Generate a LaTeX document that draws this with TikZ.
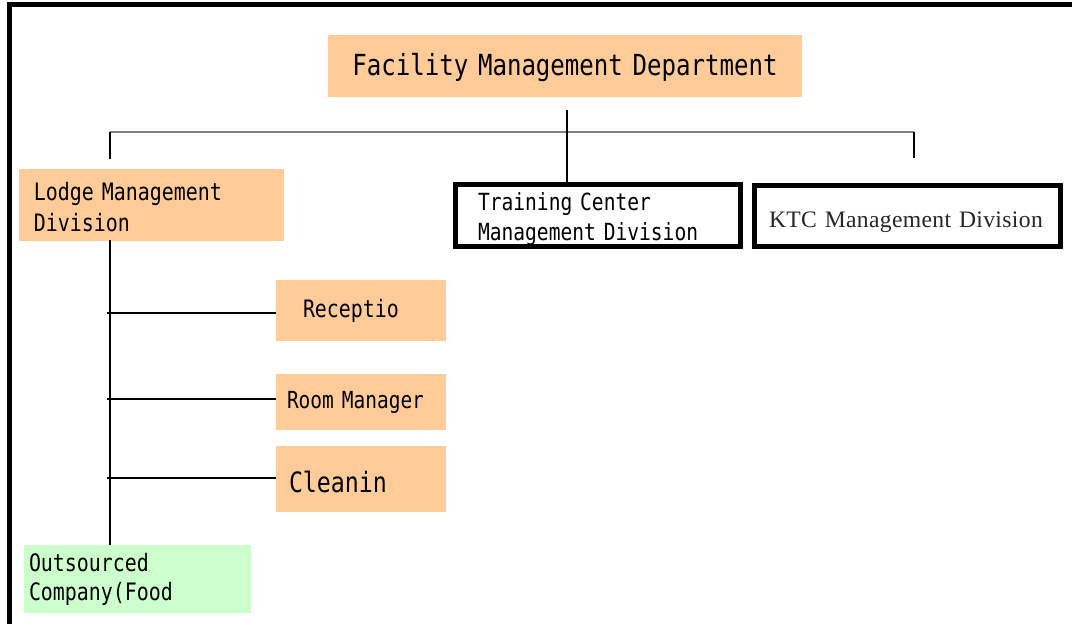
\documentclass[tikz,border=0pt]{standalone}
\usepackage{fontspec}
\newfontfamily\gothic[FakeStretch=0.83]{DejaVu Sans Mono}
\newfontfamily\mincho[LetterSpace=1.5]{Liberation Serif}
\definecolor{peach}{HTML}{FFCC99}
\definecolor{mint}{HTML}{CCFFCC}
\newcommand{\lift}[1]{\rule{0pt}{#1}}
\begin{document}
\begin{tikzpicture}[x=1pt,y=-1pt,
  box/.style={inner ysep=0pt,align=left,anchor=center},
  peachbox/.style={box,fill=peach},
  greenbox/.style={box,fill=mint},
  framebox/.style={box,draw=black,line width=5pt,fill=white},
  link/.style={line width=1.2pt,black},
  barline/.style={line width=1.2pt,gray}]
\useasboundingbox (0,0) rectangle (1072,624);
% outer frame (top and left)
\draw[line width=5.5pt,line join=miter] (9.3,624) -- (9.3,4.5) -- (1072,4.5);

\node[peachbox,minimum width=474pt,minimum height=62pt,align=center,text width=474pt,inner xsep=0pt,
  font=\gothic\fontsize{29}{34}\selectfont] (fac) at (565,66) {\lift{0.9em}Facility Management Department};

\node[peachbox,minimum width=265pt,minimum height=72pt,inner xsep=15pt,text width=235pt,
  font=\gothic\fontsize{24}{31}\selectfont] (lodge) at (151.5,204.5) {\lift{1.0em}Lodge Management\\Division};

\node[framebox,minimum width=285pt,minimum height=60pt,inner xsep=22.5pt,text width=240pt,
  font=\gothic\fontsize{23.6}{30}\selectfont] (trn) at (598,215.5) {\lift{1.1em}Training Center\\Management Division};

\node[framebox,minimum width=306pt,minimum height=61pt,inner xsep=14.5pt,text width=277pt,
  font=\mincho\fontsize{23.6}{30}\selectfont,text=black!85] (ktc) at (907.5,216) {\lift{1.15em}KTC Management Division};

\node[peachbox,minimum width=170pt,minimum height=61pt,inner xsep=27pt,text width=116pt,
  font=\gothic\fontsize{24}{30}\selectfont] (rec) at (361,310.5) {Receptio};

\node[peachbox,minimum width=170pt,minimum height=56pt,inner xsep=11pt,text width=148pt,
  font=\gothic\fontsize{23.5}{30}\selectfont] (room) at (361,402) {Room Manager};

\node[peachbox,minimum width=170pt,minimum height=66pt,inner xsep=13pt,text width=144pt,
  font=\gothic\fontsize{28}{32}\selectfont] (clean) at (361,479) {\lift{0.97em}Cleanin};

\node[greenbox,minimum width=227pt,minimum height=68pt,inner xsep=5pt,text width=217pt,
  font=\gothic\fontsize{24}{29}\selectfont] (out) at (137.5,579) {\lift{0.8em}Outsourced\\Company(Food};

% top-level connectors
\coordinate (hub) at (567,110);
\coordinate (barL) at (110,132);
\coordinate (barR) at (914,132);
\coordinate (tickL) at (110,159);
\coordinate (tickR) at (914,158);
\draw[barline] (barL) -- (barR);
\draw[link] (hub) -- (hub |- trn.north);
\draw[link] (barL) -- (tickL);
\draw[link] (barR) -- (tickR);

% lodge spine and branches
\coordinate (spTop) at (110,240);
\coordinate (sp1) at (107,313);
\coordinate (sp2) at (107,399);
\coordinate (sp3) at (107,478);
\draw[link] (spTop) -- (spTop |- out.north);
\draw[link] (sp1) -- (sp1 -| rec.west);
\draw[link] (sp2) -- (sp2 -| room.west);
\draw[link] (sp3) -- (sp3 -| clean.west);
\end{tikzpicture}
\end{document}
